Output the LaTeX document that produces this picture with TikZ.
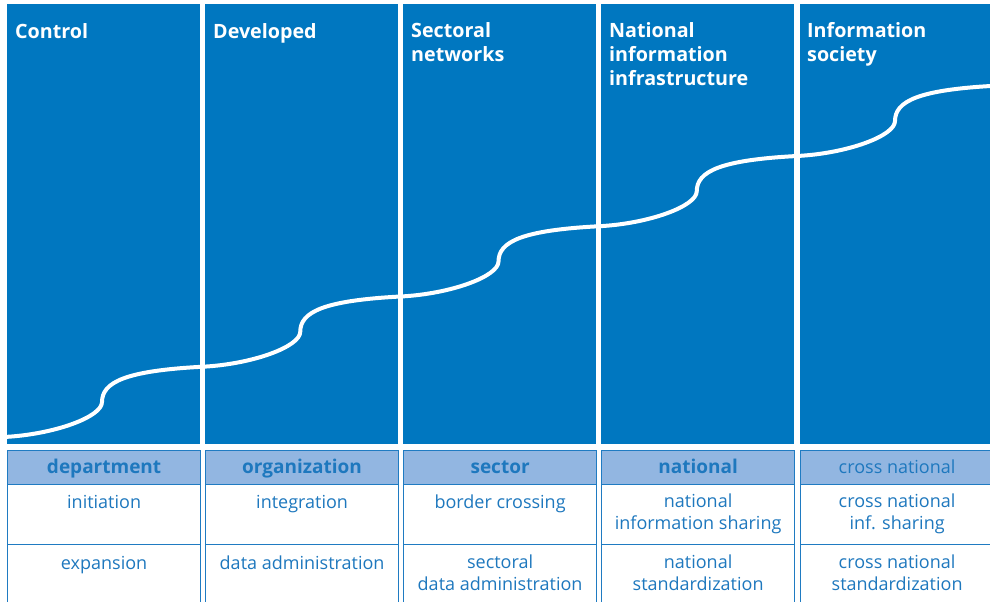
\documentclass[tikz,border=0pt]{standalone}
\usepackage{fontspec}
\setmainfont{Open Sans}
\definecolor{panelblue}{HTML}{0077C0}
\definecolor{headfill}{HTML}{92B6E1}
\definecolor{tabline}{HTML}{1F7BC2}
\definecolor{tabtext}{HTML}{1E78BE}
\tikzset{
  panel/.style={fill=panelblue, draw=none, anchor=north west, inner sep=0pt,
    minimum width=193pt, minimum height=440pt},
  % a fixed-height strut keeps the first baseline 16pt below the node top
  stagetitle/.style={anchor=north west, inner sep=0pt, text=white, align=left,
    font=\fontsize{19.7}{24.4}\selectfont\bfseries,
    execute at begin node=\rule{0pt}{16pt}},
  headcell/.style={fill=headfill, draw=tabline, line width=1.2pt, anchor=north west,
    inner sep=0pt, minimum width=193pt, minimum height=34pt},
  bodycell/.style={fill=white, draw=tabline, line width=1.2pt, anchor=north west,
    inner sep=0pt, minimum width=193pt},
  headtext/.style={anchor=base, text=tabtext, inner sep=0pt,
    font=\fontsize{19}{22}\selectfont\bfseries},
  headtextlight/.style={anchor=base, text=tabtext, inner sep=0pt,
    font=\fontsize{18}{22}\selectfont},
  celltext/.style={anchor=north, text=tabtext, inner sep=0pt, align=center,
    font=\fontsize{18}{22.6}\selectfont,
    execute at begin node=\rule{0pt}{15pt}},
  growth/.style={draw=white, line width=4pt, line cap=round}
}
\begin{document}
\begin{tikzpicture}[x=1pt,y=-1pt]
\useasboundingbox (0,0) rectangle (990,602);
\begin{scope}
\clip (0,0) rectangle (990,602);
% stage panels
\node[panel] (p1) at (7,4) {};
\node[panel] (p2) at (205,4) {};
\node[panel] (p3) at (403,4) {};
\node[panel] (p4) at (601,4) {};
\node[panel] (p5) at (800,4) {};
% stage titles (first baseline at y = 38)
\node[stagetitle] (t1) at (15,22) {Control};
\node[stagetitle] (t2) at (213,22) {Developed};
\node[stagetitle] (t3) at (411,22) {Sectoral\\networks};
\node[stagetitle] (t4) at (609,22) {National\\information\\infrastructure};
\node[stagetitle] (t5) at (807,22) {Information\\society};
% growth curve
\begin{scope}
\clip (7,4) rectangle (990,444);
\draw[growth] (4,437)
  .. controls (54,434.5) and (102,417) .. (102,402)
  .. controls (102,382) and (126,370.75) .. (202.25,366.75)
  .. controls (252.25,364.25) and (300.25,346.75) .. (300.25,331.75)
  .. controls (300.25,311.75) and (324.25,300.5) .. (400.5,296.5)
  .. controls (450.5,294) and (498.5,276.5) .. (498.5,261.5)
  .. controls (498.5,241.5) and (522.5,230.25) .. (598.75,226.25)
  .. controls (648.75,223.75) and (696.75,206.25) .. (696.75,191.25)
  .. controls (696.75,171.25) and (720.75,160) .. (797,156)
  .. controls (847,153.5) and (895,136) .. (895,121)
  .. controls (895,101) and (919,89.75) .. (995.25,85.75);
\end{scope}
% table: header row
\node[headcell] (h1) at (7,450) {};
\node[headcell] (h2) at (205,450) {};
\node[headcell] (h3) at (403,450) {};
\node[headcell] (h4) at (601,450) {};
\node[headcell] (h5) at (800,450) {};
\node[headtext] at (h1.center |- 0,473.5) {department};
\node[headtext] at (h2.center |- 0,473.5) {organization};
\node[headtext] at (h3.center |- 0,473.5) {sector};
\node[headtext] at (h4.center |- 0,473.5) {national};
\node[headtextlight] at (h5.center |- 0,473.5) {cross national};
% table: first row
\node[bodycell, minimum height=60pt] (a1) at (7,484) {};
\node[bodycell, minimum height=60pt] (a2) at (205,484) {};
\node[bodycell, minimum height=60pt] (a3) at (403,484) {};
\node[bodycell, minimum height=60pt] (a4) at (601,484) {};
\node[bodycell, minimum height=60pt] (a5) at (800,484) {};
\node[celltext] at ([yshift=-9.3pt]a1.north) {initiation};
\node[celltext] at ([yshift=-9.3pt]a2.north) {integration};
\node[celltext] at ([yshift=-9.3pt]a3.north) {border crossing};
\node[celltext] at ([yshift=-9.3pt]a4.north) {national\\information sharing};
\node[celltext] at ([yshift=-9.3pt]a5.north) {cross national\\inf. sharing};
% table: second row
\node[bodycell, minimum height=80pt] (b1) at (7,544) {};
\node[bodycell, minimum height=80pt] (b2) at (205,544) {};
\node[bodycell, minimum height=80pt] (b3) at (403,544) {};
\node[bodycell, minimum height=80pt] (b4) at (601,544) {};
\node[bodycell, minimum height=80pt] (b5) at (800,544) {};
\node[celltext] at ([yshift=-10.5pt]b1.north) {expansion};
\node[celltext] at ([yshift=-10.5pt]b2.north) {data administration};
\node[celltext] at ([yshift=-10.5pt]b3.north) {sectoral\\data administration};
\node[celltext] at ([yshift=-10.5pt]b4.north) {national\\standardization};
\node[celltext] at ([yshift=-10.5pt]b5.north) {cross national\\standardization};
\end{scope}
\end{tikzpicture}
\end{document}
